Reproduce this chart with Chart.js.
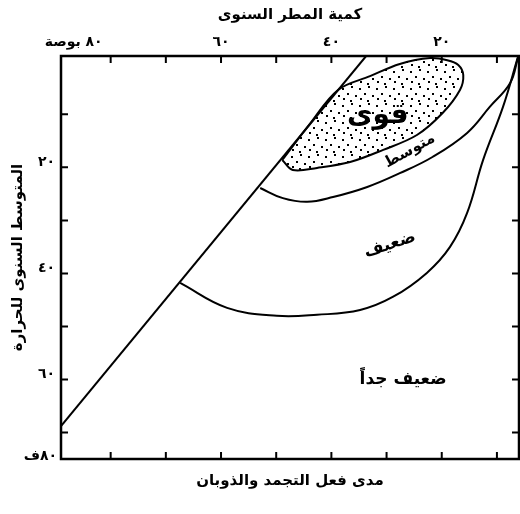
<!DOCTYPE html>
<html><head><meta charset="utf-8">
<script src="https://cdn.jsdelivr.net/npm/chart.js@4"></script>
<style>html,body{margin:0;padding:0;background:#fff}</style>
</head><body>
<canvas id="c" width="520" height="514"></canvas>
<script>
// ---- data (x = annual rainfall, inches; y = mean annual temperature, °F) ----
const diagX = [89, 33.7];
const diagY = [68.8, -1];
const weakX = [67.4, 58.9, 49.9, 42.6, 34.8, 28.8, 22.7, 18.5, 15.4, 12.5, 8.9, 6.2];
const weakY = [41.8, 46.5, 48.0, 47.8, 46.9, 44.4, 39.9, 35.0, 28.6, 18.6, 8.6, -0.8];
const medX = [52.9, 48.8, 44.4, 39.7, 33.5, 27.6, 21.6, 15.4, 11.3, 7.6, 6.2];
const medY = [23.9, 25.8, 26.5, 25.6, 23.7, 21.1, 18.0, 13.5, 8.6, 4.1, -0.6];
const strongX = [48.9, 47.0, 42.6, 36.6, 30.6, 24.5, 19.8, 16.7, 16.1, 17.0, 19.0, 22.1, 27.6, 33.0, 38.8, 43.9, 48.9];
const strongY = [18.6, 20.5, 20.1, 19.0, 16.7, 13.9, 9.7, 5.4, 2.6, 0.7, -0.2, -0.6, 0.5, 2.8, 5.4, 11.8, 18.6];

const xTickValues = [10, 20, 30, 40, 50, 60, 70, 80];
const xLabelValues = [80, 60, 40, 20];
const xLabels = ['٨٠ بوصة', '٦٠', '٤٠', '٢٠'];
const yTickValues = [10, 20, 30, 40, 50, 60, 70];
const yLabelValues = [20, 40, 60];
const yLabels = ['٢٠', '٤٠', '٦٠'];
const yEndLabel = '٨٠ف';

const regionNames = ['قوى', 'متوسط', 'ضعيف', 'ضعيف جداً'];
const regionX = [31.6, 25.8, 29.4, 27.0];
const regionY = [10.3, 16.9, 34.6, 60.1];

const topTitle = 'كمية المطر السنوى';
const leftTitle = 'المتوسط السنوى للحرارة';
const bottomTitle = 'مدى فعل التجمد والذوبان';

const pts = (xs, ys) => xs.map((x, i) => ({x, y: ys[i]}));
const FONT = 'DejaVu Sans';

const canvas = document.getElementById('c');
const ctx = canvas.getContext('2d');

// stipple pattern
const pc = document.createElement('canvas');
pc.width = 17; pc.height = 17;
const pg = pc.getContext('2d');
pg.fillStyle = '#000';
[[2,3],[11,1],[7,8],[15,10],[3,13],[10,15]].forEach(([a,b]) => pg.fillRect(a, b, 2, 2));
const stipple = ctx.createPattern(pc, 'repeat');

const decor = {
  id: 'decor',
  beforeDraw(chart) {
    const c = chart.ctx;
    c.save(); c.fillStyle = '#fff'; c.fillRect(0, 0, chart.width, chart.height); c.restore();
  },
  afterDraw(chart) {
    const c = chart.ctx, a = chart.chartArea;
    const sx = chart.scales.x, sy = chart.scales.y;
    c.save();
    c.strokeStyle = '#000'; c.fillStyle = '#000';
    c.lineWidth = 2.5;
    c.strokeRect(a.left, a.top, a.right - a.left, a.bottom - a.top);
    c.lineWidth = 2;
    const tl = 7;
    c.beginPath();
    xTickValues.forEach(v => {
      const px = sx.getPixelForValue(v);
      c.moveTo(px, a.top); c.lineTo(px, a.top + tl);
      c.moveTo(px, a.bottom); c.lineTo(px, a.bottom - tl);
    });
    yTickValues.forEach(v => {
      const py = sy.getPixelForValue(v);
      c.moveTo(a.left, py); c.lineTo(a.left + tl, py);
      c.moveTo(a.right, py); c.lineTo(a.right - tl, py);
    });
    c.stroke();
    // tick labels
    c.font = 'bold 14px "' + FONT + '"';
    c.textBaseline = 'middle';
    xLabelValues.forEach((v, i) => {
      const px = sx.getPixelForValue(v);
      if (i === 0) { c.textAlign = 'right'; c.fillText(xLabels[i], px - 8, a.top - 14); }
      else { c.textAlign = 'center'; c.fillText(xLabels[i], px, a.top - 14); }
    });
    c.textAlign = 'right';
    yLabelValues.forEach((v, i) => {
      c.fillText(yLabels[i], a.left - 6, sy.getPixelForValue(v) - 5);
    });
    c.fillText(yEndLabel, a.left - 4, a.bottom - 3);
    // region names
    const rot = [0, -29, -18, 0];
    const sizes = [28, 15, 17, 17];
    regionNames.forEach((t, i) => {
      c.save();
      c.translate(sx.getPixelForValue(regionX[i]), sy.getPixelForValue(regionY[i]));
      c.rotate(rot[i] * Math.PI / 180);
      c.font = 'bold ' + sizes[i] + 'px "' + FONT + '"';
      c.textAlign = 'center'; c.textBaseline = 'middle';
      c.fillText(t, 0, 0);
      c.restore();
    });
    c.restore();
  }
};

const hidden = {grid: {display: false}, border: {display: false}, ticks: {display: false}};
const titleFont = {family: FONT, size: 15, weight: 'bold'};

new Chart(ctx, {
  type: 'scatter',
  data: {
    datasets: [
      {data: pts(strongX, strongY), showLine: true, fill: 'shape', backgroundColor: stipple,
       borderColor: '#000', borderWidth: 2, pointRadius: 0, tension: 0.35},
      {data: pts(diagX, diagY), showLine: true, borderColor: '#000', borderWidth: 2, pointRadius: 0, tension: 0},
      {data: pts(weakX, weakY), showLine: true, borderColor: '#000', borderWidth: 2, pointRadius: 0, tension: 0.4},
      {data: pts(medX, medY), showLine: true, borderColor: '#000', borderWidth: 2, pointRadius: 0, tension: 0.4}
    ]
  },
  options: {
    responsive: false, animation: false,
    layout: {padding: 0},
    plugins: {legend: {display: false}, tooltip: {enabled: false}},
    scales: {
      x: {type: 'linear', position: 'top', reverse: true, min: 6, max: 89, ...hidden,
          afterFit(s) { s.height = 56; },
          title: {display: true, text: topTitle, color: '#000', font: titleFont, padding: {top: 6, bottom: 0}}},
      xb: {type: 'linear', position: 'bottom', reverse: true, min: 6, max: 89, ...hidden,
          afterFit(s) { s.height = 55; },
          title: {display: true, text: bottomTitle, color: '#000', font: titleFont, padding: {top: 0, bottom: 24}}},
      y: {type: 'linear', position: 'left', reverse: true, min: -1, max: 75, ...hidden,
          afterFit(s) { s.width = 61; },
          title: {display: true, text: leftTitle, color: '#000', font: titleFont, padding: {top: 9, bottom: 0}}},
      yr: {type: 'linear', position: 'right', reverse: true, min: -1, max: 75, ...hidden,
          afterFit(s) { s.width = 1; }}
    }
  },
  plugins: [decor]
});
</script>
</body></html>
